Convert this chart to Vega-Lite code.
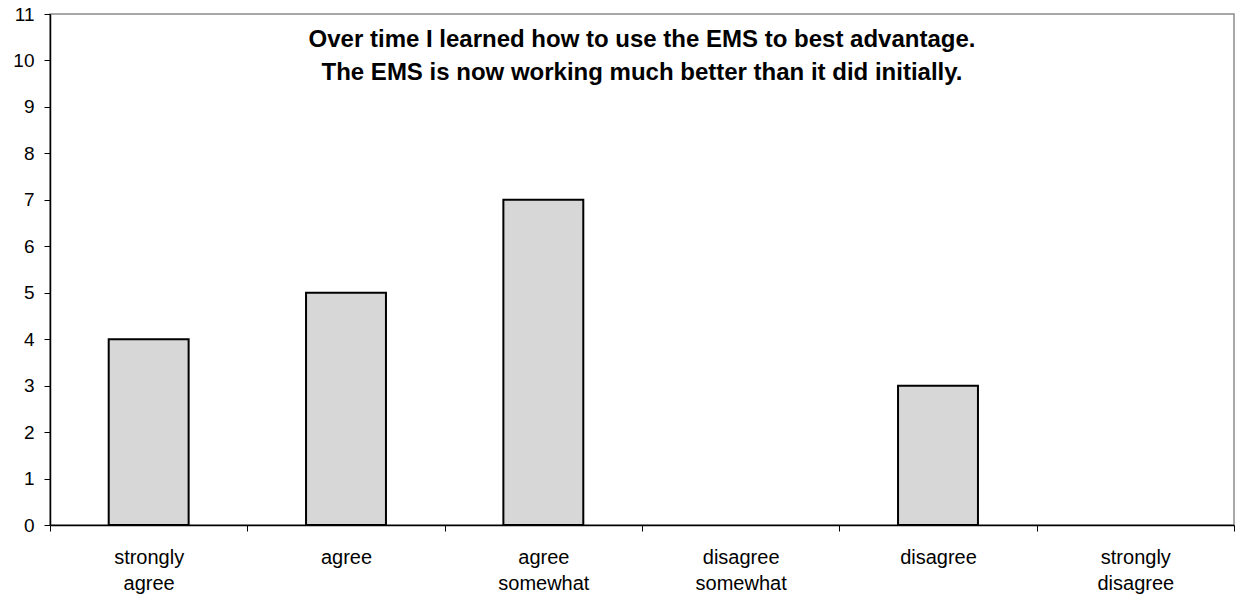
{
  "$schema": "https://vega.github.io/schema/vega-lite/v6.json",
  "autosize": "none",
  "width": 1184,
  "height": 511,
  "padding": {"left": 50, "top": 14, "right": 1, "bottom": 75},
  "background": "white",
  "config": {
    "font": "Liberation Sans",
    "view": {"stroke": "#8c8c8c", "strokeWidth": 1.5}
  },
  "title": {
    "text": ["Over time I learned how to use the EMS to best advantage.", "The EMS is now working much better than it did initially."],
    "font": "Liberation Sans",
    "fontSize": 24,
    "fontWeight": "bold",
    "color": "black",
    "anchor": "middle",
    "lineHeight": 33,
    "baseline": "top",
    "offset": -80
  },
  "data": {
    "values": [
      {"response": "strongly agree", "count": 4},
      {"response": "agree", "count": 5},
      {"response": "agree somewhat", "count": 7},
      {"response": "disagree somewhat", "count": 0},
      {"response": "disagree", "count": 3},
      {"response": "strongly disagree", "count": 0}
    ]
  },
  "mark": {"type": "bar", "fill": "#d7d7d7", "stroke": "black", "strokeWidth": 2, "width": {"band": 0.405}},
  "encoding": {
    "x": {
      "field": "response",
      "type": "nominal",
      "sort": null,
      "scale": {"paddingInner": 0, "paddingOuter": 0},
      "axis": {
        "title": null,
        "labelAngle": 0,
        "labelExpr": "split(datum.label, ' ')",
        "labelFontSize": 20,
        "labelColor": "black",
        "labelPadding": 16,
        "labelLineHeight": 26,
        "tickBand": "extent",
        "tickSize": 6,
        "tickColor": "black",
        "domainColor": "black",
        "domainWidth": 1.5,
        "labelBaseline": "top"
      }
    },
    "y": {
      "field": "count",
      "type": "quantitative",
      "scale": {"domain": [0, 11], "nice": false},
      "axis": {
        "title": null,
        "values": [0,1,2,3,4,5,6,7,8,9,10,11],
        "grid": false,
        "labelFontSize": 19,
        "labelColor": "black",
        "tickSize": 6,
        "tickColor": "black",
        "domainColor": "black",
        "domainWidth": 1.5,
        "labelPadding": 10
      }
    },
    "strokeOpacity": {
      "condition": {"test": "datum.count > 0", "value": 1},
      "value": 0
    }
  }
}
